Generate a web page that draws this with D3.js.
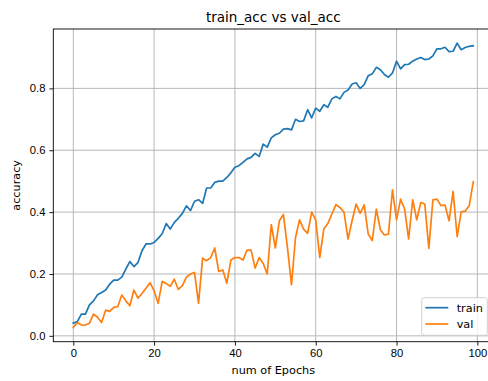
<!DOCTYPE html>
<html>
<head>
<meta charset="utf-8">
<script src="https://cdn.jsdelivr.net/npm/d3@7"></script>
<style>
  html, body { margin: 0; padding: 0; background: #fff; overflow: hidden; }
  svg { display: block; font-family: "DejaVu Sans", sans-serif; }
  .axis path, .axis line { stroke: #000; stroke-width: 0.9; }
  .axis text { font-size: 11.25px; fill: #000; }
</style>
</head>
<body>
<div id="chart"></div>
<script>
// train_acc vs val_acc
const trainAcc = [
  0.041, 0.046, 0.070, 0.070, 0.100, 0.113, 0.133, 0.140, 0.148, 0.167,
  0.180, 0.180, 0.190, 0.216, 0.240, 0.224, 0.237, 0.275, 0.297, 0.297,
  0.302, 0.315, 0.330, 0.363, 0.345, 0.367, 0.380, 0.396, 0.420, 0.405,
  0.435, 0.440, 0.428, 0.478, 0.478, 0.496, 0.500, 0.500, 0.512, 0.527,
  0.545, 0.550, 0.561, 0.572, 0.577, 0.590, 0.580, 0.620, 0.610, 0.640,
  0.650, 0.655, 0.668, 0.670, 0.666, 0.700, 0.693, 0.695, 0.731, 0.705,
  0.736, 0.726, 0.747, 0.739, 0.766, 0.774, 0.766, 0.787, 0.795, 0.814,
  0.818, 0.800, 0.812, 0.841, 0.847, 0.868, 0.860, 0.845, 0.836, 0.850,
  0.888, 0.863, 0.877, 0.878, 0.888, 0.895, 0.900, 0.893, 0.895, 0.905,
  0.928, 0.928, 0.933, 0.919, 0.920, 0.946, 0.925, 0.932, 0.936, 0.938
];
const valAcc = [
  0.027, 0.043, 0.035, 0.035, 0.041, 0.070, 0.060, 0.043, 0.083, 0.079,
  0.092, 0.094, 0.132, 0.113, 0.097, 0.148, 0.122, 0.137, 0.154, 0.172,
  0.145, 0.105, 0.176, 0.169, 0.160, 0.183, 0.150, 0.162, 0.190, 0.200,
  0.205, 0.105, 0.251, 0.243, 0.253, 0.284, 0.208, 0.213, 0.170, 0.245,
  0.253, 0.253, 0.245, 0.277, 0.277, 0.219, 0.253, 0.234, 0.200, 0.360,
  0.284, 0.372, 0.392, 0.286, 0.165, 0.318, 0.375, 0.345, 0.331, 0.400,
  0.375, 0.253, 0.345, 0.363, 0.394, 0.424, 0.415, 0.400, 0.313, 0.372,
  0.426, 0.396, 0.423, 0.329, 0.308, 0.410, 0.343, 0.326, 0.329, 0.472,
  0.375, 0.442, 0.410, 0.313, 0.440, 0.375, 0.431, 0.426, 0.283, 0.440,
  0.442, 0.421, 0.423, 0.372, 0.467, 0.321, 0.401, 0.403, 0.421, 0.498
];
const epochs = d3.range(trainAcc.length);
const xTicks = [0, 20, 40, 60, 80, 100];
const yTicks = [0.0, 0.2, 0.4, 0.6, 0.8];
const seriesNames = ["train", "val"];
const seriesColors = ["#1f77b4", "#ff7f0e"];

const W = 488, H = 381;
// axes box (right edge lies just outside the picture, as in the reference)
const margin = { top: 29, right: -5.3, bottom: 39.3, left: 53.3 };
const width = W - margin.left - margin.right;
const height = H - margin.top - margin.bottom;

const svg = d3.select("#chart").append("svg")
  .attr("width", W).attr("height", H);

const g = svg.append("g").attr("transform", `translate(${margin.left},${margin.top})`);

// matplotlib-like 5% margins
const xPad = (epochs[epochs.length - 1] - epochs[0]) * 0.05;
const x = d3.scaleLinear()
  .domain([epochs[0] - xPad, epochs[epochs.length - 1] + xPad])
  .range([0, width]);

const allVals = trainAcc.concat(valAcc);
const [yMin, yMax] = d3.extent(allVals);
const yPad = (yMax - yMin) * 0.05;
const y = d3.scaleLinear().domain([yMin - yPad, yMax + yPad]).range([height, 0]);

// grid
g.append("g").selectAll("line").data(xTicks).join("line")
  .attr("x1", d => x(d)).attr("x2", d => x(d))
  .attr("y1", 0).attr("y2", height)
  .attr("stroke", "#b0b0b0").attr("stroke-width", 0.9);
g.append("g").selectAll("line").data(yTicks).join("line")
  .attr("x1", 0).attr("x2", width)
  .attr("y1", d => y(d)).attr("y2", d => y(d))
  .attr("stroke", "#b0b0b0").attr("stroke-width", 0.9);

// lines
const line = d3.line().x((d, i) => x(epochs[i])).y(d => y(d));
[trainAcc, valAcc].forEach((s, k) => {
  g.append("path").datum(s)
    .attr("fill", "none")
    .attr("stroke", seriesColors[k])
    .attr("stroke-width", 1.7)
    .attr("stroke-linejoin", "round")
    .attr("stroke-linecap", "square")
    .attr("d", line);
});

// spines
g.append("rect")
  .attr("width", width).attr("height", height)
  .attr("fill", "none").attr("stroke", "#000").attr("stroke-width", 0.9);

// axes
g.append("g").attr("class", "axis").attr("transform", `translate(0,${height})`)
  .call(d3.axisBottom(x).tickValues(xTicks).tickSize(3.9).tickPadding(3.9).tickFormat(d3.format("d")))
  .call(a => a.select(".domain").remove());

g.append("g").attr("class", "axis")
  .call(d3.axisLeft(y).tickValues(yTicks).tickSize(3.9).tickPadding(3.9).tickFormat(d3.format(".1f")))
  .call(a => a.select(".domain").remove());

// title & axis labels
svg.append("text")
  .attr("x", margin.left + width / 2).attr("y", margin.top - 7)
  .attr("text-anchor", "middle").attr("font-size", "13.5px").attr("fill", "#000")
  .text("train_acc vs val_acc");

svg.append("text")
  .attr("x", margin.left + width / 2).attr("y", 374)
  .attr("text-anchor", "middle").attr("font-size", "11.25px").attr("fill", "#000")
  .text("num of Epochs");

svg.append("text")
  .attr("transform", `translate(20,${margin.top + height / 2}) rotate(-90)`)
  .attr("text-anchor", "middle").attr("font-size", "11.25px").attr("fill", "#000")
  .text("accuracy");

// legend (lower right)
const lg = svg.append("g").attr("transform", "translate(421.7,297.7)");
lg.append("rect")
  .attr("width", 65.6).attr("height", 37.6).attr("rx", 2.5)
  .attr("fill", "#fff").attr("fill-opacity", 0.8)
  .attr("stroke", "#cccccc").attr("stroke-width", 0.9);
seriesNames.forEach((name, k) => {
  const yy = 10 + k * 16.3;
  lg.append("line")
    .attr("x1", 3.6).attr("x2", 26.6).attr("y1", yy).attr("y2", yy)
    .attr("stroke", seriesColors[k]).attr("stroke-width", 1.7);
  lg.append("text")
    .attr("x", 35).attr("y", yy).attr("dy", "0.36em")
    .attr("font-size", "11.25px").attr("fill", "#000")
    .text(name);
});
</script>
</body>
</html>
